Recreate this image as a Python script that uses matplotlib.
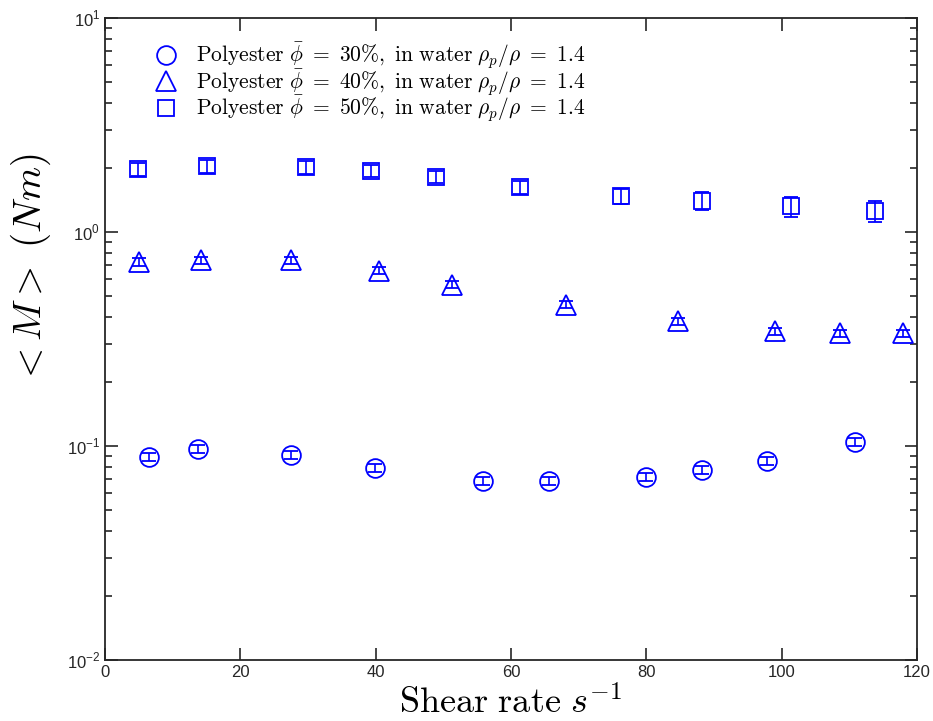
import numpy as np
import matplotlib
matplotlib.use('Agg')
import matplotlib.pyplot as plt
from matplotlib.lines import Line2D
from matplotlib.ticker import FixedLocator, LogLocator, NullFormatter

plt.rcParams['mathtext.fontset'] = 'cm'
plt.rcParams['mathtext.rm'] = 'Liberation Sans'
plt.rcParams['font.family'] = 'Liberation Sans'

# shear rate (1/s) and mean torque (Nm) for each volume fraction
x30 = [6.5, 13.7, 27.5, 39.9, 55.9, 65.6, 79.9, 88.2, 97.8, 110.8]
m30 = [0.0888, 0.0968, 0.0908, 0.0789, 0.0686, 0.0686, 0.0716, 0.0772, 0.0851, 0.1044]
e30 = [0.004, 0.004, 0.004, 0.0035, 0.003, 0.003, 0.003, 0.0035, 0.004, 0.0045]

x40 = [5.0, 14.2, 27.5, 40.5, 51.3, 68.1, 84.7, 99.0, 108.6, 117.9]
m40 = [0.725, 0.740, 0.740, 0.660, 0.568, 0.458, 0.382, 0.343, 0.336, 0.336]
e40 = [0.028, 0.028, 0.028, 0.025, 0.022, 0.018, 0.015, 0.014, 0.013, 0.013]

x50 = [4.9, 15.1, 29.7, 39.3, 48.9, 61.3, 76.3, 88.2, 101.4, 113.8]
m50 = [1.97, 2.03, 2.01, 1.93, 1.81, 1.62, 1.47, 1.40, 1.32, 1.25]
e50 = [0.14, 0.15, 0.14, 0.13, 0.12, 0.12, 0.12, 0.13, 0.14, 0.14]

labels = [r'$\mathrm{Polyester}\ \bar{\phi}\ =\ 30\%,\ \mathrm{in\ water}\ \rho_p/\rho\ =\ 1.4$',
          r'$\mathrm{Polyester}\ \bar{\phi}\ =\ 40\%,\ \mathrm{in\ water}\ \rho_p/\rho\ =\ 1.4$',
          r'$\mathrm{Polyester}\ \bar{\phi}\ =\ 50\%,\ \mathrm{in\ water}\ \rho_p/\rho\ =\ 1.4$']

fig = plt.figure(figsize=(9.33, 7.21), dpi=100)
ax = fig.add_axes([0.1125, 0.0846, 0.8705, 0.8904])

blue = '#0000ff'
series = [(x30, m30, e30, 'o', 13.5), (x40, m40, e40, '^', 14), (x50, m50, e50, 's', 11)]
handles = []
for x, m, e, mk, ms in series:
    ax.errorbar(x, m, yerr=e, fmt=mk, ms=ms, mfc='none', mec=blue, mew=1.3,
                ecolor=blue, elinewidth=1.2, capsize=5, capthick=1.2)
    handles.append(Line2D([], [], ls='none', marker=mk, ms=ms, mfc='none',
                          mec=blue, mew=1.3))

ax.set_yscale('log')
ax.set_xlim(0, 120)
ax.set_ylim(1e-2, 1e1)
ax.set_xticks([0, 20, 40, 60, 80, 100, 120])
ax.yaxis.set_major_locator(FixedLocator([1e-2, 1e-1, 1e0, 1e1]))
ax.yaxis.set_minor_locator(LogLocator(base=10, subs=np.arange(2, 10)))
ax.yaxis.set_minor_formatter(NullFormatter())
ax.set_yticklabels([r'$10^{-2}$', r'$10^{-1}$', r'$10^{0}$', r'$10^{1}$'])
for t in ax.get_yticklabels():
    t.set_math_fontfamily('custom')

ax.tick_params(which='both', direction='in', top=True, right=True, colors='#262626',
               labelsize=12, width=1.2)
ax.tick_params(which='major', length=9)
ax.tick_params(which='minor', length=5)
for s in ax.spines.values():
    s.set_color('#262626')
    s.set_linewidth(1.3)

ax.set_xlabel(r'$\mathrm{Shear\ rate}\ s^{-1}$', fontsize=26, labelpad=5)
ax.set_ylabel(r'$<M>\ (Nm)$', fontsize=28)
ax.yaxis.set_label_coords(-0.064, 0.61)

ax.legend(handles, labels, loc='upper left', frameon=False, fontsize=15.5,
          handletextpad=0.8, labelspacing=-0.17, bbox_to_anchor=(0.043, 0.985),
          handlelength=1.2, borderaxespad=0.2)

fig.savefig('out.png', dpi=100)
